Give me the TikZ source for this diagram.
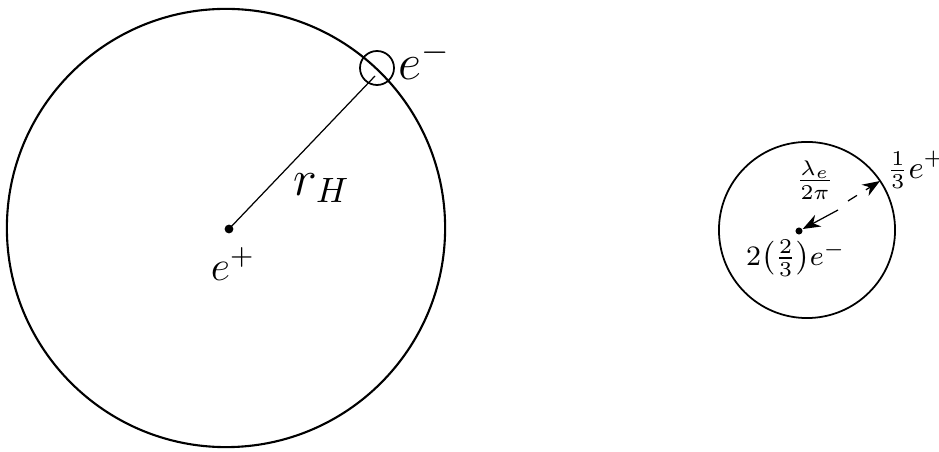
\documentclass[tikz,border=0pt]{standalone}
\usepackage{amsmath}
\usetikzlibrary{arrows.meta,positioning}
\tikzset{
  dot/.style={circle,fill,inner sep=0pt,minimum size=2.5pt},
  lbl/.style={font=\Large,inner sep=1pt},
  slbl/.style={font=\small,inner sep=1pt},
}

\begin{document}
\begin{tikzpicture}[x=0.01cm,y=-0.01cm,line width=0.4pt]
  \useasboundingbox (0,0) rectangle (939,452);
  % hydrogen atom
  \coordinate (Hc) at (226,228);
  \draw[line width=0.6pt] (Hc) circle (2.19cm);
  \node[dot] (ep) at (229,229) {};
  \node[draw,circle,inner sep=0pt,minimum size=0.34cm,line width=0.5pt] (em) at (377,68) {};
  \draw[line width=0.35pt] (ep.center) -- (375,76);
  \node[lbl] (emlbl) at (425,60) {$e^-$};
  \node[lbl] (rH) at (322,188) {$r_H$};
  \node[lbl,font=\large] (eplbl) at (233,264) {$e^+$};
  % compact state
  \coordinate (Sc) at (807,230);
  \draw[line width=0.5pt] (Sc) circle (0.88cm);
  \node[dot,minimum size=2pt] (cen) at (799,231) {};
  \coordinate (lamA) at (838,210);
  \coordinate (lamB) at (848,201);
  \coordinate (rim) at (880,181);
  \draw[line width=0.35pt,-{Stealth[length=5pt]}] (lamA) -- (cen);
  \draw[line width=0.35pt,dashed,-{Stealth[length=5pt]}] (lamB) -- (rim);
  \node[slbl] (lam) at (815,180) {$\frac{\lambda_e}{2\pi}$};
  \node[slbl,font=\footnotesize] (core) at (796,258) {$2\bigl(\tfrac{2}{3}\bigr)e^-$};
  \node[slbl,anchor=west] (third) at (883,170) {$\tfrac{1}{3}e^+$};
\end{tikzpicture}
\end{document}
